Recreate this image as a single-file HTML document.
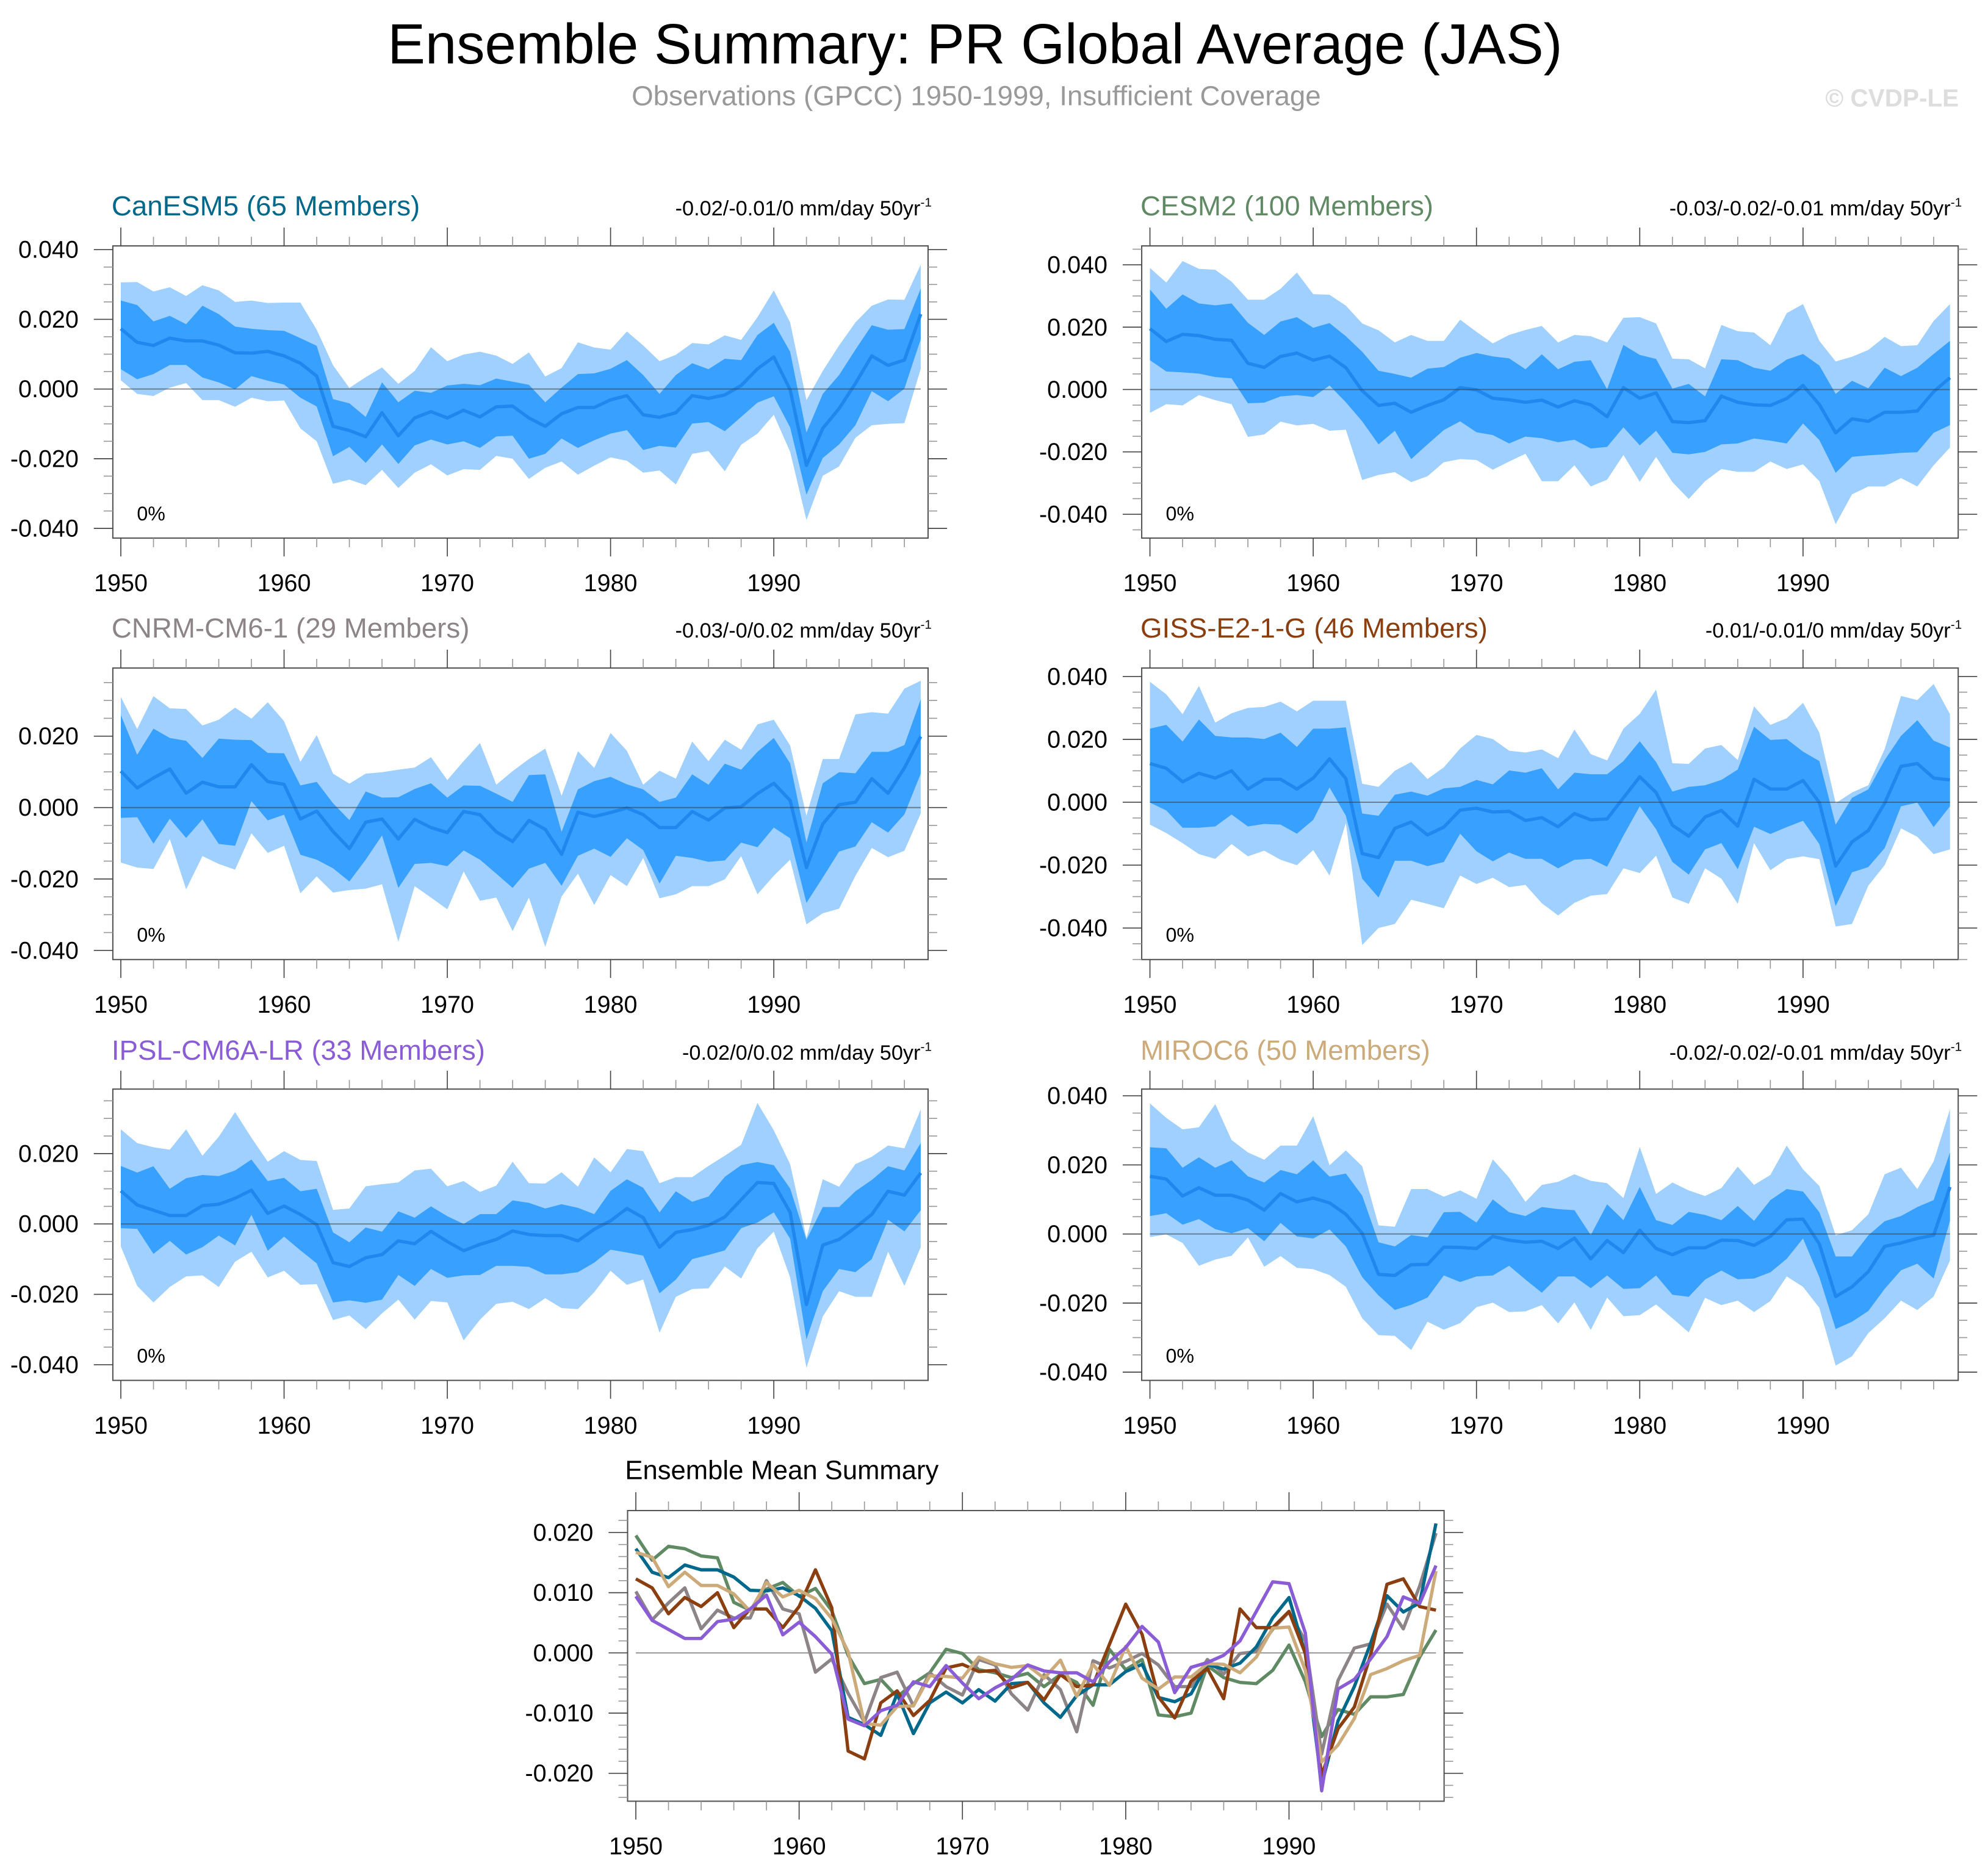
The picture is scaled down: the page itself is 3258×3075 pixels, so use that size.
<!DOCTYPE html>
<html><head><meta charset="utf-8">
<style>
html,body{margin:0;padding:0;background:#fff;}
svg{display:block;font-family:"Liberation Sans",Arial,sans-serif;}
</style></head>
<body>
<svg id="fig" xmlns="http://www.w3.org/2000/svg" width="3258" height="3075" viewBox="0 0 1568 1480" preserveAspectRatio="none">
<rect x="0" y="0" width="1568" height="1480" fill="#fff"/>
<text x="769" y="50" font-size="44.5" text-anchor="middle" fill="#000">Ensemble Summary: PR Global Average (JAS)</text>
<text x="770" y="83" font-size="22" text-anchor="middle" fill="#999">Observations (GPCC) 1950-1999, Insufficient Coverage</text>
<text x="1545" y="84" font-size="19.5" font-weight="bold" text-anchor="end" fill="#ddd">© CVDP-LE</text>
<g id="panels"></g>
</svg>
<script>
// ---- data (values in 0.001 mm/day) ----
const years = Array.from({length:50},(_,i)=>1950+i);
const modelNames = ["CanESM5","CESM2","CNRM-CM6-1","GISS-E2-1-G","IPSL-CM6A-LR","MIROC6"];
const memberCounts = [65,100,29,46,33,50];
const trendLabels = ["-0.02/-0.01/0","-0.03/-0.02/-0.01","-0.03/-0/0.02","-0.01/-0.01/0","-0.02/0/0.02","-0.02/-0.02/-0.01"];
const modelColors = ["#00688B","#5F8A63","#8C8486","#8B3F10","#8A5CD6","#CDAA7A"];

const canMean=[17.3,13.4,12.5,14.6,13.8,13.8,12.6,10.4,10.3,10.8,9.5,7.4,3.7,-10.7,-11.9,-13.7,-6.8,-13.4,-8.3,-6.5,-8.3,-6.1,-8.0,-5.1,-4.9,-8.3,-10.7,-7.1,-5.3,-5.3,-3.1,-1.9,-7.4,-8.1,-6.8,-1.9,-2.7,-1.7,1.0,5.8,9.2,-0.2,-21.9,-11.3,-5.6,1.6,9.5,6.8,8.3,21.5];
const canInHi=[25.4,24.1,19.4,21.0,18.6,23.9,21.5,17.9,17.3,16.9,16.7,14.6,12.4,-2.9,-4.1,-8.0,1.9,-3.8,-0.5,-1.1,1.0,1.5,1.1,3.0,2.1,1.2,-3.8,0.4,4.3,4.5,5.8,8.3,4.0,-1.4,4.0,7.4,5.7,8.7,8.3,15.5,19.0,10.7,-12.5,-1.4,4.0,11.3,18.3,17.0,17.2,28.8];
const canInLo=[5.7,2.8,4.3,6.9,6.9,3.3,1.9,-0.1,3.7,2.4,1.3,-2.5,-5.0,-19.3,-16.6,-21.2,-15.9,-21.5,-16.2,-14.5,-15.9,-15.0,-16.9,-13.6,-13.4,-20.0,-18.6,-14.2,-16.9,-14.7,-12.8,-11.8,-17.5,-16.3,-16.8,-9.9,-9.5,-12.1,-8.0,-3.9,-2.1,-11.0,-30.3,-19.8,-15.9,-10.4,-0.6,-3.5,0.1,14.3];
const canOutHi=[30.6,30.7,28.0,29.2,26.7,29.8,28.3,25.0,25.4,24.7,24.8,24.8,17.0,6.8,0.3,3.4,6.2,1.5,5.2,12.0,8.0,9.9,10.7,9.6,7.2,10.5,3.6,6.0,13.4,11.9,11.3,16.5,12.5,8.0,9.8,13.2,12.8,15.4,14.1,20.6,28.3,19.1,-3.2,5.2,12.5,19.1,23.9,25.7,25.6,35.7];
const canOutLo=[2.5,-1.4,-2.0,0.4,1.7,-3.2,-3.2,-5.1,-2.5,-3.5,-3.3,-11.3,-15.0,-27.2,-26.0,-27.6,-23.2,-28.4,-24.0,-21.6,-24.8,-23.0,-23.2,-19.2,-20.0,-25.8,-22.6,-20.8,-24.6,-22.0,-19.6,-20.6,-24.0,-23.4,-27.4,-18.6,-17.8,-23.6,-16.0,-12.8,-7.4,-18.0,-37.6,-24.9,-22.2,-14.0,-10.4,-10.0,-9.8,5.8];

const cesMean=[19.5,15.4,17.7,17.3,16.1,15.8,8.4,7.1,10.6,11.7,9.4,10.7,7.0,-0.4,-5.1,-4.4,-7.3,-5.1,-3.3,0.6,-0.1,-2.8,-3.3,-4.1,-3.4,-5.6,-3.6,-4.9,-8.7,0.6,-2.8,-1.1,-10.3,-10.6,-10.0,-2.1,-4.1,-4.9,-5.1,-2.9,1.3,-4.8,-13.9,-9.4,-10.2,-7.3,-7.3,-6.9,-0.7,3.8];
const cesInHi=[32.1,25.9,30.5,27.6,27.0,27.6,21.4,17.5,21.8,23.2,19.8,21.3,17.1,12.1,6.0,5.0,3.8,6.7,7.2,10.2,11.7,10.6,10.0,6.5,11.3,6.5,8.9,9.4,0.1,14.3,11.1,9.8,0.3,1.8,-2.2,9.7,9.4,7.0,6.0,9.6,11.4,7.7,-1.4,2.8,0.4,7.0,4.3,7.0,11.4,15.6];
const cesInLo=[9.4,5.8,5.5,5.1,4.0,3.6,-4.4,-4.2,-2.2,-1.8,-2.4,1.3,-4.1,-10.2,-17.6,-13.2,-22.3,-17.6,-13.0,-10.2,-13.7,-14.6,-17.3,-15.1,-15.6,-16.9,-16.1,-18.9,-18.4,-12.1,-17.9,-13.2,-20.3,-20.8,-20.0,-17.6,-17.3,-15.7,-16.4,-17.3,-10.9,-16.2,-26.7,-21.6,-21.1,-20.8,-20.3,-20.1,-13.9,-11.4];
const cesOutHi=[39.0,34.3,41.2,38.7,38.4,34.6,28.8,28.8,32.3,37.5,30.6,30.4,26.9,21.2,19.0,15.1,17.5,15.6,15.6,22.4,18.5,14.8,17.5,19.1,20.4,15.1,17.5,17.1,15.1,23.0,23.2,21.2,9.9,9.7,6.8,20.7,18.7,18.3,14.2,24.5,27.4,15.6,9.0,10.5,12.7,16.9,13.9,14.2,22.0,27.4];
const cesOutLo=[-7.5,-4.7,-5.1,-1.8,-3.4,-4.7,-15.2,-14.4,-10.3,-11.5,-11.0,-13.2,-12.9,-29.0,-27.4,-26.5,-29.7,-27.8,-23.3,-22.3,-22.6,-25.7,-23.1,-20.6,-29.4,-29.4,-24.3,-31.1,-28.9,-21.0,-29.6,-21.6,-29.7,-35.1,-29.4,-25.5,-26.4,-26.4,-23.1,-25.5,-24.0,-29.4,-43.2,-33.6,-31.1,-31.1,-28.4,-31.1,-24.3,-18.6];

const cnrMean=[10.2,5.5,8.3,10.8,4.0,7.1,5.8,5.8,12.0,7.3,6.5,-3.2,-1.0,-6.7,-11.5,-4.1,-3.2,-8.8,-3.3,-5.6,-7.0,-1.1,-2.0,-6.8,-9.5,-3.6,-6.1,-13.1,-1.3,-2.5,-1.4,-0.1,-2.0,-5.6,-5.6,-1.1,-3.5,-0.1,0.2,3.9,6.8,2.0,-16.8,-4.6,0.8,1.5,8.1,4.0,11.1,19.9];
const cnrInHi=[25.9,14.8,22.1,19.5,18.7,13.9,19.3,19.0,18.9,15.3,15.2,6.2,7.2,1.2,-3.5,4.5,2.8,2.9,5.2,6.8,2.8,6.2,6.1,3.9,1.6,9.1,9.3,-6.8,5.1,7.4,8.6,6.5,5.1,1.6,2.8,9.3,6.4,12.3,10.6,15.6,19.5,12.4,-9.8,6.8,9.9,9.6,15.6,15.6,17.5,30.3];
const cnrInLo=[-2.9,-2.7,-10.1,-3.1,-8.5,-3.3,-10.2,-10.7,1.8,-3.6,-2.0,-13.2,-14.6,-17.0,-20.7,-14.6,-7.8,-22.5,-15.8,-15.5,-16.4,-12.0,-14.6,-18.5,-22.5,-17.1,-15.5,-21.9,-13.5,-11.5,-13.8,-8.6,-11.9,-21.3,-13.5,-14.1,-15.2,-14.8,-9.8,-11.1,-5.6,-8.6,-26.7,-19.6,-12.3,-10.9,-4.1,-7.0,-1.9,9.5];
const cnrOutHi=[31.0,22.0,31.2,27.8,27.6,23.0,24.6,28.0,24.9,29.5,24.2,12.8,20.3,9.5,6.7,9.5,9.9,10.6,11.2,14.1,7.7,13.0,18.1,6.4,10.2,13.6,16.5,3.3,15.8,11.1,20.9,15.9,6.4,10.3,8.1,18.5,13.0,19.0,16.2,23.3,24.6,17.4,-2.3,13.6,13.6,26.1,26.7,26.3,33.3,35.5];
const cnrOutLo=[-15.4,-16.8,-17.2,-8.8,-22.9,-13.6,-15.8,-17.4,-7.2,-12.7,-10.7,-24.0,-19.3,-23.8,-23.1,-22.7,-21.5,-37.6,-22.0,-25.2,-28.5,-17.9,-26.1,-25.2,-34.6,-25.2,-39.0,-24.9,-18.5,-27.3,-18.9,-22.0,-14.1,-25.4,-24.3,-22.0,-22.0,-20.1,-13.6,-24.3,-19.1,-14.6,-32.7,-29.6,-28.3,-19.1,-11.3,-13.9,-12.1,-1.7];

const gisMean=[12.3,10.8,6.5,9.2,7.7,10.0,4.2,7.3,7.3,4.2,7.7,13.8,7.5,-16.3,-17.6,-8.3,-6.3,-10.4,-7.9,-2.5,-1.9,-3.1,-2.9,-5.8,-4.9,-7.8,-3.6,-5.6,-5.3,1.4,8.1,3.1,-7.3,-10.8,-4.7,-2.6,-7.6,7.3,4.2,4.2,6.9,-0.1,-20.3,-12.6,-9.0,-0.3,11.4,12.3,7.7,7.1];
const gisInHi=[23.4,24.6,19.3,26.3,21.1,20.6,20.6,20.1,22.1,17.6,23.4,23.4,23.8,-3.6,-4.3,2.4,3.4,2.1,4.4,4.9,7.1,5.7,10.1,9.4,10.8,4.1,9.4,8.9,8.9,13.1,19.4,12.8,3.4,4.9,5.4,7.1,10.4,24.0,19.8,20.1,16.1,13.1,-7.1,1.4,4.1,13.4,21.1,26.1,19.6,17.4];
const gisInLo=[-0.1,-2.6,-8.1,-8.1,-7.7,-3.9,-7.7,-6.9,-7.1,-10.0,-5.6,4.7,-4.3,-24.3,-30.3,-18.6,-18.6,-20.3,-19.0,-10.0,-15.6,-18.8,-16.0,-18.0,-18.0,-21.0,-18.3,-18.0,-20.5,-10.6,-1.3,-8.6,-19.0,-23.0,-15.0,-13.0,-21.3,-7.8,-10.1,-7.9,-5.9,-13.3,-33.0,-22.3,-20.6,-14.6,-1.3,-0.1,-7.9,-1.3];
const gisOutHi=[38.3,34.3,28.0,37.0,25.3,28.3,30.0,30.3,32.0,28.9,32.3,32.3,32.3,5.9,4.9,10.0,12.8,7.4,11.1,17.1,21.4,20.1,16.4,15.8,16.8,14.0,23.1,15.3,13.3,23.4,28.1,35.8,12.4,12.2,17.1,18.2,13.4,30.5,24.6,26.7,31.6,22.1,-0.3,3.1,5.4,16.9,33.8,32.5,37.6,28.0];
const gisOutLo=[-7.1,-9.8,-13.0,-16.5,-18.0,-13.3,-17.2,-15.4,-18.3,-20.0,-15.2,-23.3,-6.6,-45.4,-40.0,-38.7,-31.0,-32.3,-33.7,-23.3,-26.0,-24.0,-27.0,-26.3,-32.1,-36.0,-32.0,-29.7,-29.2,-21.0,-22.5,-17.0,-30.3,-32.3,-21.0,-24.3,-32.3,-13.0,-21.6,-18.1,-17.2,-18.1,-39.5,-38.7,-26.5,-20.0,-8.3,-11.0,-16.5,-15.0];

const ipsMean=[9.4,5.4,3.9,2.4,2.4,5.2,5.6,7.3,9.6,3.0,5.1,2.7,-0.2,-11.0,-12.1,-9.6,-8.7,-4.8,-5.6,-2.1,-5.0,-7.6,-5.8,-4.4,-2.0,-3.0,-3.3,-3.3,-4.8,-1.5,0.9,4.4,1.8,-6.6,-2.4,-1.6,-0.4,2.0,6.9,11.8,11.5,3.3,-22.9,-6.0,-4.4,-1.0,2.7,9.3,8.2,14.5];
const ipsInHi=[16.5,14.6,16.4,10.0,13.0,13.9,13.6,15.2,18.3,12.2,13.1,9.3,10.0,-2.4,-5.2,-1.0,-2.2,3.6,1.8,5.0,2.2,0.0,2.8,2.8,6.7,6.0,4.4,5.6,4.6,2.8,9.4,12.7,10.3,3.3,9.3,6.3,7.8,13.4,16.7,17.6,16.7,10.1,-4.5,4.8,4.8,9.3,12.5,16.4,15.2,23.0];
const ipsInLo=[-1.2,-1.4,-8.5,-4.8,-8.7,-6.6,-3.3,-6.1,2.6,-7.6,-3.6,-7.5,-11.2,-22.3,-21.7,-22.4,-21.5,-14.5,-17.6,-12.8,-15.3,-14.6,-14.5,-11.9,-11.9,-12.2,-14.3,-14.3,-13.7,-11.0,-7.3,-8.1,-9.0,-19.7,-15.8,-10.0,-8.8,-7.5,-1.2,0.4,3.3,-4.2,-32.8,-19.1,-12.8,-13.7,-10.0,1.2,-2.1,3.9];
const ipsOutHi=[26.9,23.0,21.8,21.1,26.9,19.4,24.8,31.8,24.5,17.7,20.7,18.2,17.9,4.0,4.4,10.7,11.3,11.8,15.2,15.7,10.7,12.2,9.1,10.9,17.7,11.6,11.5,14.7,10.6,18.9,14.7,21.3,20.7,11.6,13.3,13.3,16.5,19.4,22.5,34.4,26.6,17.0,-4.0,12.7,10.6,17.0,19.1,22.3,21.5,32.5];
const ipsOutLo=[-6.4,-17.6,-22.3,-17.9,-14.9,-14.6,-17.9,-10.7,-7.9,-15.2,-13.3,-17.3,-17.1,-27.3,-26.0,-29.9,-25.4,-21.5,-27.2,-21.9,-22.3,-33.1,-27.2,-22.7,-22.1,-24.2,-21.1,-23.9,-24.2,-19.4,-13.3,-17.3,-15.8,-30.9,-20.7,-18.5,-18.3,-12.1,-15.5,-6.9,-2.2,-15.2,-40.9,-26.3,-19.1,-20.7,-20.7,-7.9,-17.6,-6.6];

const mirMean=[16.7,15.9,11.0,13.4,11.2,11.2,9.8,6.9,11.7,9.3,10.4,9.0,5.7,0.2,-11.7,-12.0,-8.9,-8.8,-3.8,-3.9,-4.2,-0.7,-1.8,-2.4,-2.1,-4.2,-1.2,-7.2,-1.9,-5.4,1.1,-4.2,-6.0,-4.0,-4.0,-1.8,-1.9,-3.3,-0.7,4.1,4.3,-2.9,-18.1,-15.3,-10.9,-3.6,-2.6,-1.3,-0.4,13.6];
const mirInHi=[25.1,24.8,19.2,22.2,19.2,21.3,16.7,14.9,18.5,17.3,21.3,16.6,17.5,11.1,-2.4,-3.6,-0.3,-1.0,6.3,6.4,3.3,10.0,6.3,5.2,7.8,7.2,6.9,-0.3,8.6,4.0,13.6,4.0,2.6,6.4,5.5,4.0,8.1,3.8,9.8,13.0,12.3,6.3,-6.5,-6.5,-0.4,3.7,5.2,7.8,9.8,23.6];
const mirInLo=[5.2,6.0,2.7,4.3,1.4,0.2,1.7,-2.1,3.2,-0.7,-1.3,1.3,-3.6,-12.5,-17.8,-22.0,-20.5,-18.4,-12.0,-13.9,-12.3,-12.0,-9.2,-13.2,-17.0,-12.3,-12.3,-15.7,-12.0,-15.9,-15.7,-12.0,-17.6,-18.2,-13.2,-10.6,-13.1,-12.9,-11.1,-7.2,-1.3,-12.5,-27.5,-25.4,-22.3,-15.9,-10.5,-8.6,-12.9,3.8];
const mirOutHi=[37.8,33.6,30.3,30.9,37.6,27.2,23.6,21.5,25.6,25.6,34.1,19.9,24.2,19.6,2.5,2.1,13.0,13.0,10.8,12.6,10.2,21.6,16.3,9.3,14.2,15.1,17.3,15.4,14.7,10.4,25.2,11.6,14.9,12.6,11.0,13.3,19.5,14.2,17.1,25.6,18.7,13.9,-0.4,1.1,5.7,17.3,19.2,13.0,21.0,36.1];
const mirOutLo=[-0.9,-0.1,-2.6,-9.2,-7.4,-6.3,-1.0,-9.5,-6.4,-9.8,-10.2,-11.9,-15.3,-24.4,-29.3,-29.5,-33.6,-25.4,-27.7,-25.8,-21.2,-19.9,-22.6,-22.4,-20.6,-25.9,-19.8,-27.8,-18.4,-23.8,-23.5,-20.4,-24.4,-28.5,-18.5,-20.6,-19.3,-22.6,-19.4,-12.3,-15.3,-21.4,-38.1,-35.4,-28.7,-24.4,-19.3,-22.0,-18.1,-7.7];

const panelTickLabels = ["0.040","0.020","0.000","-0.020","-0.040"];
const summaryTickLabels = ["0.020","0.010","0.000","-0.010","-0.020"];
const decadeLabels = ["1950","1960","1970","1980","1990"];

// ---- layout ----
const NS="http://www.w3.org/2000/svg";
const root=document.getElementById('panels');
function mk(tag,attrs,parent){const e=document.createElementNS(NS,tag);for(const k in attrs)e.setAttribute(k,attrs[k]);(parent||root).appendChild(e);return e;}

const series=[
 [canMean,canInHi,canInLo,canOutHi,canOutLo],
 [cesMean,cesInHi,cesInLo,cesOutHi,cesOutLo],
 [cnrMean,cnrInHi,cnrInLo,cnrOutHi,cnrOutLo],
 [gisMean,gisInHi,gisInLo,gisOutHi,gisOutLo],
 [ipsMean,ipsInHi,ipsInLo,ipsOutHi,ipsOutLo],
 [mirMean,mirInHi,mirInLo,mirOutHi,mirOutLo]
];
const L={left:89,right:732,x50:95.3,x99:726.2};
const R={left:900.5,right:1544.5,x50:907,x99:1538};
const panels=[
 {h:L,top:194,bot:424.5,zero:306.9,s:27.49,row:0},
 {h:R,top:194,bot:424.5,zero:307.3,s:24.6,row:0},
 {h:L,top:527,bot:757,zero:637.1,s:28.17,row:1},
 {h:R,top:527,bot:757,zero:632.9,s:24.81,row:1},
 {h:L,top:859.2,bot:1089,zero:965.6,s:27.76,row:2},
 {h:R,top:859.2,bot:1089,zero:973.5,s:27.25,row:2}
];
const titleY=[170,503,836];

function drawAxes(g,box,xs,ys,yMinorStep,yMajorStep,yLabels,labelVals){
  const {left,right,top,bot}=box;
  for(let yr=1950;yr<=1999;yr+=2){
    const x=xs(yr);const maj=(yr%10===0);
    const len=maj?14.5:7.2;const col=maj?'#444':'#999';
    const t1=mk('line',{x1:x,x2:x,y1:top,y2:top-len,stroke:col,'stroke-width':0.8},g);
    
    
    const t2=mk('line',{x1:x,x2:x,y1:bot,y2:bot+len,stroke:col,'stroke-width':0.8},g);
    
    
  }
  const vTop=box.vTop, vBot=box.vBot;
  const n0=Math.ceil(vBot/yMinorStep-1e-6), n1=Math.floor(vTop/yMinorStep+1e-6);
  for(let n=n0;n<=n1;n++){
    const v=n*yMinorStep;const y=ys(v);
    const maj=Math.abs(v/yMajorStep-Math.round(v/yMajorStep))<1e-6;
    const len=maj?15:7.2;const col=maj?'#444':'#999';
    const a=mk('line',{x1:left,x2:left-len,y1:y,y2:y,stroke:col,'stroke-width':0.8},g);
    
    
    const b=mk('line',{x1:right,x2:right+len,y1:y,y2:y,stroke:col,'stroke-width':0.8},g);
    
    
  }
  labelVals.forEach((v,i)=>{
    if(v>vTop||v<vBot) return;
    const t=mk('text',{x:left-27,y:ys(v)+6.5,'font-size':19,'text-anchor':'end',fill:'#000'},g);
    
    
    t.textContent=yLabels[i];
  });
  decadeLabels.forEach(lbl=>{
    const t=mk('text',{x:xs(+lbl),y:bot+42,'font-size':19,'text-anchor':'middle',fill:'#000'},g);
    
    
    t.textContent=lbl;
  });
}

panels.forEach((p,k)=>{
  const g=mk('g',{});
  
  
  const xs=yr=>p.h.x50+(yr-1950)*(p.h.x99-p.h.x50)/49;
  const ys=v=>p.zero-v*p.s/10;
  const [mean,ih,il,oh,ol]=series[k];
  const clipId='clip'+k;
  const cp=mk('clipPath',{id:clipId},g);
  mk('rect',{x:p.h.left,y:p.top,width:p.h.right-p.h.left,height:p.bot-p.top},cp);
  const inner=mk('g',{'clip-path':'url(#'+clipId+')'},g);
  const band=(hi,lo)=>hi.map((v,i)=>xs(years[i])+','+ys(v)).concat(lo.map((v,i)=>xs(years[i])+','+ys(v)).reverse()).join(' ');
  const ob=mk('polygon',{points:band(oh,ol),fill:'#9FD0FF'},inner);
  
  
  const ib=mk('polygon',{points:band(ih,il),fill:'#38A0FF'},inner);
  
  
  const ml=mk('polyline',{points:mean.map((v,i)=>xs(years[i])+','+ys(v)).join(' '),fill:'none',stroke:'#1E88EE','stroke-width':2.6,'stroke-linejoin':'round'},inner);
  
  
  const zl=mk('line',{x1:xs(1950),x2:xs(1999),y1:ys(0),y2:ys(0),stroke:'rgba(60,60,60,0.55)','stroke-width':1},inner);
  
  
  const fr=mk('rect',{x:p.h.left,y:p.top,width:p.h.right-p.h.left,height:p.bot-p.top,fill:'none',stroke:'#555','stroke-width':1},g);
  
  
  const box={left:p.h.left,right:p.h.right,top:p.top,bot:p.bot,vTop:(p.zero-p.top)/p.s*10,vBot:(p.zero-p.bot)/p.s*10};
  drawAxes(g,box,xs,ys,5,20,panelTickLabels,[40,20,0,-20,-40]);
  const pc=mk('text',{x:p.h.left+19,y:p.bot-14,'font-size':15.5,fill:'#000'},g);
  
  
  pc.textContent='0%';
  const tt=mk('text',{x:p.h.left-1,y:titleY[p.row],'font-size':22,fill:modelColors[k]},g);
  
  
  tt.textContent=modelNames[k]+' ('+memberCounts[k]+' Members)';
  const tr=mk('text',{x:p.h.right-6,y:titleY[p.row],'font-size':16.5,'text-anchor':'end',fill:'#000'},g);
  
  
  tr.textContent=trendLabels[k]+' mm/day 50yr';
  const sup=mk('text',{x:p.h.right-6,y:titleY[p.row]-7,'font-size':10,fill:'#000'},g);
  
  
  sup.textContent='-1';
});

// ---- ensemble mean summary ----
(function(){
  const g=mk('g',{});
  
  
  const box={left:495,right:1139,top:1191.7,bot:1421};
  const zero=1304, s=47.5;
  const xs=yr=>501.5+(yr-1950)*(1132.6-501.5)/49;
  const ys=v=>zero-v*s/10;
  box.vTop=(zero-box.top)/s*10; box.vBot=(zero-box.bot)/s*10;
  const cp=mk('clipPath',{id:'clipS'},g);
  mk('rect',{x:box.left,y:box.top,width:box.right-box.left,height:box.bot-box.top},cp);
  const inner=mk('g',{'clip-path':'url(#clipS)'},g);
  const zl=mk('line',{x1:xs(1950),x2:xs(1999),y1:ys(0),y2:ys(0),stroke:'#999','stroke-width':1},inner);
  
  
  const order=[1,2,0,3,5,4];
  order.forEach(k=>{
    const mean=series[k][0];
    const pl=mk('polyline',{points:mean.map((v,i)=>xs(years[i])+','+ys(v)).join(' '),fill:'none',stroke:modelColors[k],'stroke-width':2.6,'stroke-linejoin':'round'},inner);
    
    
  });
  const fr=mk('rect',{x:box.left,y:box.top,width:box.right-box.left,height:box.bot-box.top,fill:'none',stroke:'#555','stroke-width':1},g);
  
  
  drawAxes(g,box,xs,ys,2,10,summaryTickLabels,[20,10,0,-10,-20]);
  const t=mk('text',{x:493,y:1167,'font-size':21,fill:'#000'},g);
  
  
  t.textContent='Ensemble Mean Summary';
})();
</script>
</body></html>
